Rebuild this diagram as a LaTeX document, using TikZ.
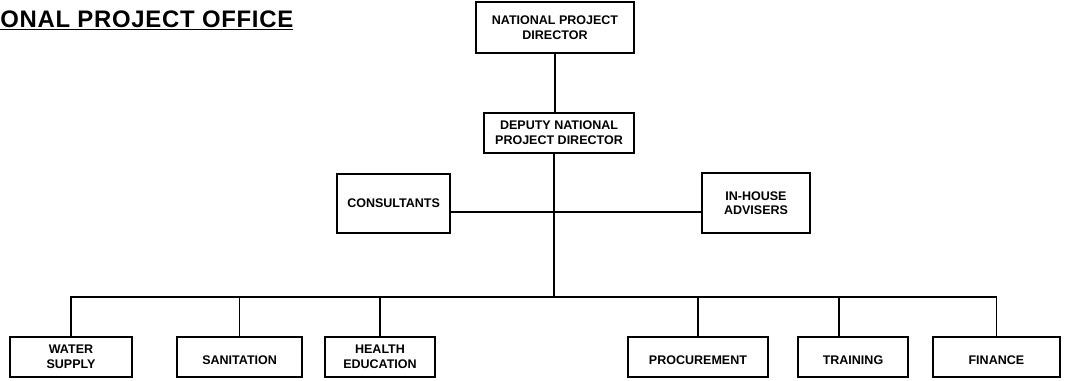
\documentclass[tikz,border=0pt]{standalone}
\usepackage{fontspec}
\setmainfont{Liberation Sans}
\usepackage {tikz}
\tikzstyle{boxed} = [rectangle, draw=black, line width=1.3pt, align=center, font=\bfseries\fontsize{8.9}{10.5}\selectfont, inner sep=2pt]
\tikzstyle{connect} = [line width=1pt]

\begin{document}
\begin{tikzpicture}
		\useasboundingbox (0,0) rectangle (26.95,-9.525);
		\node (title) [anchor=base west, inner sep=0pt, font=\bfseries\fontsize{17}{20}\selectfont\addfontfeatures{LetterSpace=3}] at (0,-0.68) {\underline{ONAL PROJECT OFFICE}};

		\node (npd) [boxed, minimum width=3.95cm, minimum height=1.275cm] at (13.875,-0.6875) {NATIONAL PROJECT\\DIRECTOR};
		\node (dnpd) [boxed, minimum width=3.75cm, minimum height=1cm] at (13.975,-3.325) {DEPUTY NATIONAL\\PROJECT DIRECTOR};
		\node (cons) [boxed, minimum width=2.825cm, minimum height=1.475cm] at (9.84,-5.08) {CONSULTANTS};
		\node (adv) [boxed, minimum width=2.7cm, minimum height=1.5cm] at (18.9,-5.08) {IN-HOUSE\\ADVISERS};

		\node (water) [boxed, minimum width=3.05cm, minimum height=1cm] at (1.775,-8.925) {WATER\\SUPPLY};
		\node (san) [boxed, minimum width=3.125cm, minimum height=1cm] at (5.99,-8.925) {\mbox{}\\SANITATION};
		\node (health) [boxed, minimum width=2.75cm, minimum height=1cm] at (9.5,-8.925) {HEALTH\\EDUCATION};
		\node (proc) [boxed, minimum width=3.5cm, minimum height=1cm] at (17.45,-8.925) {\mbox{}\\PROCUREMENT};
		\node (train) [boxed, minimum width=2.75cm, minimum height=1cm] at (21.325,-8.925) {\mbox{}\\TRAINING};
		\node (fin) [boxed, minimum width=3.175cm, minimum height=1cm] at (24.91,-8.925) {\mbox{}\\FINANCE};

		\coordinate (bus) at (13.85,-7.425);

		\draw [connect] (npd.south) -- (npd.south |- dnpd.north);
		\draw [connect] (dnpd.south -| bus) -- (bus);
		\draw [connect] ([yshift=-0.22cm]cons.east) -- ([yshift=-0.22cm]adv.west);
		\draw [connect] (water.north) |- (bus) -| (fin.north);
		\foreach \n in {san,health,proc}
			\draw [connect] (\n.north) -- (\n.north |- bus);
		\draw [connect] ([xshift=-0.35cm]train.north) -- ([xshift=-0.35cm]train.north |- bus);
		\end{tikzpicture}
\end{document}
